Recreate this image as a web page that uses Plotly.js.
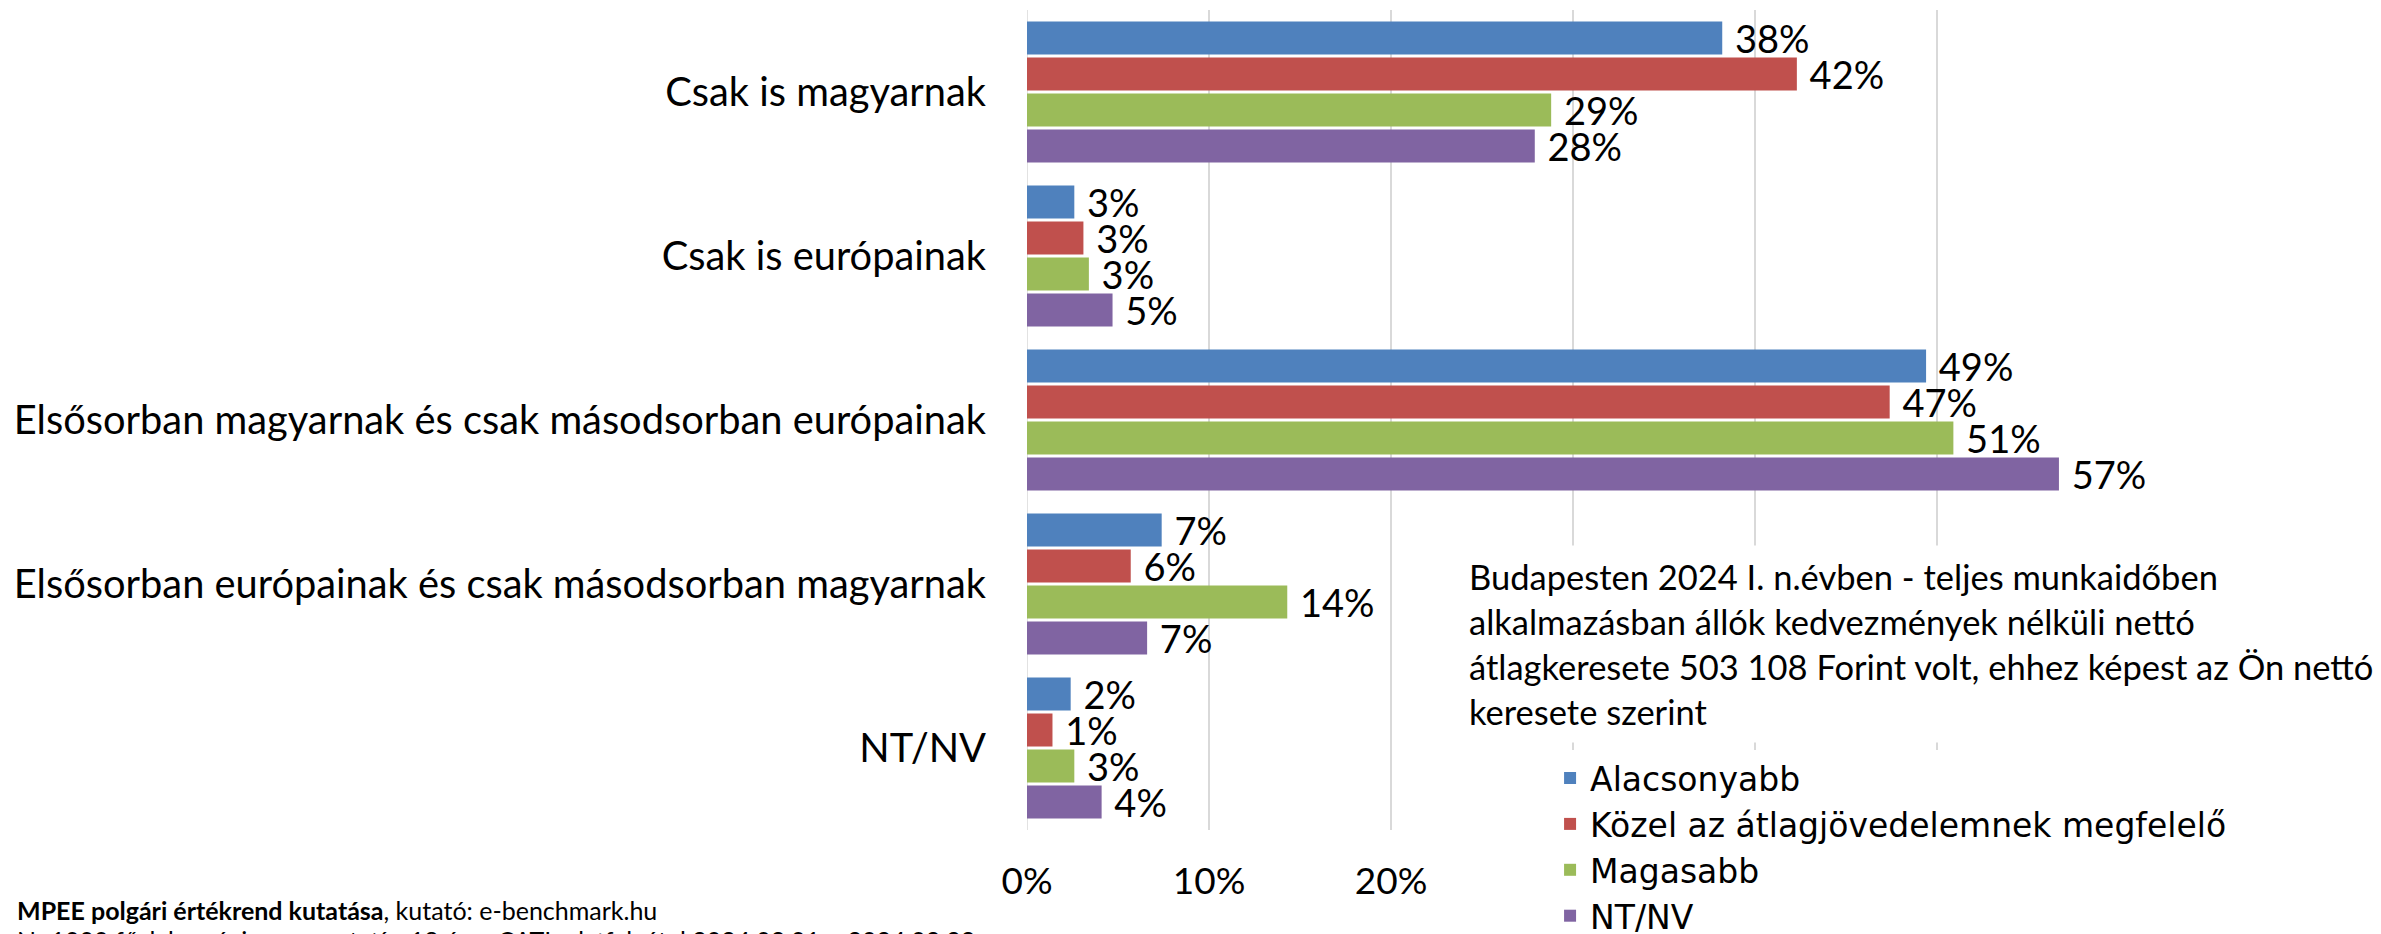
<!DOCTYPE html>
<html>
<head>
<meta charset="utf-8">
<script src="https://cdn.plot.ly/plotly-3.0.1.min.js"></script>
<style>
html,body{margin:0;padding:0;background:#fff;}
#chart{width:2381px;height:934px;}
</style>
</head>
<body>
<div id="chart"></div>
<script>
const categories = [
  'Csak is magyarnak',
  'Csak is európainak',
  'Elsősorban magyarnak és csak másodsorban európainak',
  'Elsősorban európainak és csak másodsorban magyarnak',
  'NT/NV'
];
const seriesNames = ['Alacsonyabb', 'Közel az átlagjövedelemnek megfelelő', 'Magasabb', 'NT/NV'];
const alacsonyabb = [38.2, 2.6, 49.4, 7.4, 2.4];
const kozel = [42.3, 3.1, 47.4, 5.7, 1.4];
const magasabb = [28.8, 3.4, 50.9, 14.3, 2.6];
const ntnv = [27.9, 4.7, 56.7, 6.6, 4.1];
const tickValues = [0, 10, 20, 30, 40, 50, 60];
// 30%–60% labels are hidden behind the legend box in the original
const tickLabels = ['0%', '10%', '20%', '', '', '', ''];
const colors = ['#4F81BD', '#C0504D', '#9BBB59', '#8064A2'];
const noteText = 'Budapesten 2024 I. n.évben - teljes munkaidőben<br>alkalmazásban állók kedvezmények nélküli nettó<br>átlagkeresete 503 108 Forint volt, ehhez képest az Ön nettó<br>keresete szerint';
const sourceLine1 = '<b>MPEE polgári értékrend kutatása</b>, kutató: e-benchmark.hu';
const sourceLine2 = 'N=1000 fő, lakossági reprezentatív, 18 év+, CATI adatfelvétel 2024.02.01 – 2024.02.22';

const FONT = 'Lato, "Open Sans", "Noto Sans", sans-serif';
const LEGEND_FONT = '"DejaVu Sans", "Open Sans", Lato, sans-serif';
const allSeries = [alacsonyabb, kozel, magasabb, ntnv];

const traces = allSeries.map((vals, i) => ({
  type: 'bar',
  orientation: 'h',
  name: seriesNames[i],
  y: categories,
  x: vals,
  marker: {color: colors[i], line: {width: 0}},
  texttemplate: '\u00a0%{x:.0f}%',
  textposition: 'outside',
  constraintext: 'none',
  cliponaxis: false,
  textfont: {family: FONT, size: 38, color: '#000'},
  hoverinfo: 'skip'
}));

const layout = {
  width: 2381,
  height: 934,
  margin: {l: 1027, r: 262, t: 10, b: 104, pad: 0, autoexpand: false},
  paper_bgcolor: '#fff',
  plot_bgcolor: '#fff',
  font: {family: FONT, color: '#000'},
  barmode: 'group',
  bargap: 0.122,
  bargroupgap: 0.083,
  xaxis: {
    range: [0, 60],
    tickvals: tickValues,
    ticktext: tickLabels,
    showgrid: true,
    gridcolor: '#D9D9D9',
    gridwidth: 1.5,
    zeroline: false,
    showline: false,
    ticks: '',
    ticklabelstandoff: 26,
    tickfont: {family: FONT, size: 37, color: '#000'},
    automargin: false,
    fixedrange: true
  },
  yaxis: {
    type: 'category',
    autorange: 'reversed',
    showgrid: false,
    zeroline: false,
    showline: false,
    ticks: '',
    ticklabelstandoff: 40,
    tickfont: {family: FONT, size: 39.8, color: '#000'},
    automargin: false,
    fixedrange: true
  },
  shapes: [{
    type: 'line', xref: 'x', yref: 'paper', x0: 0, x1: 0, y0: 0, y1: 1,
    line: {color: '#D9D9D9', width: 1.5}, layer: 'below'
  }],
  legend: {
    x: 0.479, xanchor: 'left',
    y: 0.0975, yanchor: 'top',
    bgcolor: '#fff',
    borderwidth: 0,
    font: {family: LEGEND_FONT, size: 33, color: '#000'},
    traceorder: 'normal',
    itemclick: false,
    itemdoubleclick: false
  },
  annotations: [
    {
      xref: 'paper', yref: 'paper',
      x: 0.395, xanchor: 'left',
      y: 0.3476, yanchor: 'top',
      text: noteText, align: 'left', showarrow: false,
      bgcolor: '#fff', borderpad: 10,
      font: {family: FONT, size: 34.5, color: '#000'}
    },
    {
      xref: 'paper', yref: 'paper',
      x: -0.927, xanchor: 'left',
      y: -0.0976, yanchor: 'middle',
      text: sourceLine1, align: 'left', showarrow: false,
      font: {family: FONT, size: 25, color: '#000'}
    },
    {
      xref: 'paper', yref: 'paper',
      x: -0.927, xanchor: 'left',
      y: -0.134, yanchor: 'middle',
      text: sourceLine2, align: 'left', showarrow: false,
      font: {family: FONT, size: 25, color: '#000'}
    }
  ]
};

Plotly.newPlot('chart', traces, layout, {displayModeBar: false, staticPlot: true});
</script>
</body>
</html>
